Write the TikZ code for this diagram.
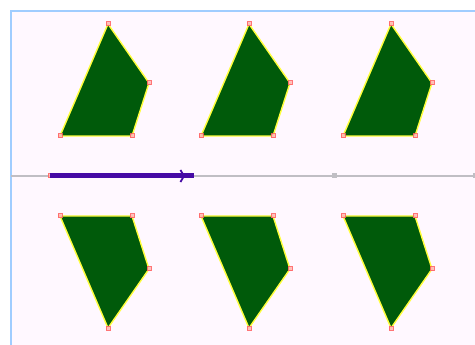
\documentclass[tikz,border=0pt]{standalone}
\usepackage{tikz}
\usetikzlibrary{arrows.meta}

\definecolor{bgpink}{RGB}{255,248,255}
\definecolor{frameblue}{RGB}{160,205,255}
\definecolor{axisgray}{RGB}{192,190,196}
\definecolor{leafgreen}{RGB}{0,90,10}
\definecolor{rimyellow}{RGB}{255,255,60}
\definecolor{stepviolet}{RGB}{70,10,165}
\definecolor{cornerred}{RGB}{255,95,95}

\tikzset{
	leaf/.style={fill=leafgreen, draw=rimyellow, line width=1.4, line join=miter},
	corner/.style={draw=cornerred, fill=cornerred!45, line width=1, opacity=0.85},
	tick/.style={fill=axisgray},
}

\begin{document}
\begin{tikzpicture}[x=1pt, y=-1pt]
	\useasboundingbox (0,0) rectangle (475,345);
	\fill[bgpink] (11,11) rectangle (475,345);
	\draw[frameblue, line width=2] (11,345) -- (11,11) -- (475,11);

	% axis
	\coordinate (o) at (11,176);
	\coordinate (m) at (334,176);
	\coordinate (e) at (475,176);
	\draw[axisgray, line width=1.6] (o) -- (e);
	\fill[tick] (m) ++(-2.5,-2.5) rectangle ++(5,5);
	\fill[tick] (e) ++(-2.5,-2.5) rectangle ++(5,5);

	% step vector
	\coordinate (s) at (50,176);
	\coordinate (t) at (194,176);
	\draw[corner] (s) ++(-2,-2) rectangle ++(4,4);
	\draw[stepviolet, line width=5,
		-{Straight Barb[length=3.5pt, width=12pt, line width=1.8pt] Rectangle[length=9pt, width=5pt]}] (s) -- (t);

	% leaves and their mirror images
	\foreach \dx in {0,141,283} {
		\begin{scope}[xshift=\dx]
			\draw[leaf] (108,24) -- (149,83) -- (132,136) -- (60,136) -- cycle;
			\draw[leaf] (60,216) -- (132,216) -- (149,269) -- (108,328) -- cycle;
			\foreach \p in {(108,24),(149,83),(132,136),(60,136),(60,216),(132,216),(149,269),(108,328)}
				\draw[corner] \p ++(-2,-2) rectangle ++(4,4);
		\end{scope}
	}
\end{tikzpicture}
\end{document}
